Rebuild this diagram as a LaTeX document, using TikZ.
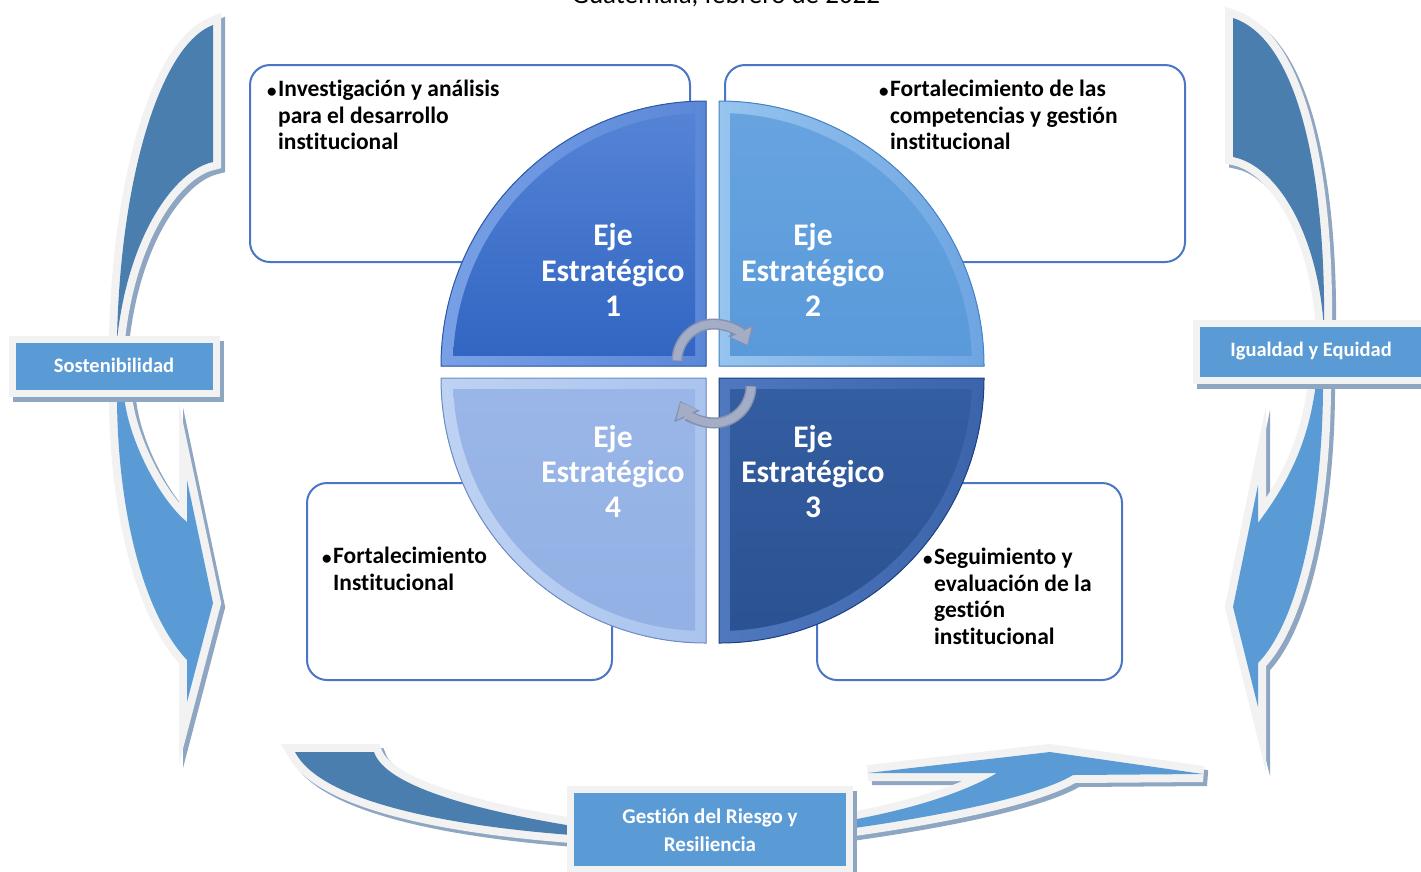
\documentclass[tikz,border=0pt]{standalone}
\usepackage{fontspec}
\setmainfont{Carlito}[Ligatures=NoCommon]
\usetikzlibrary{arrows.meta}
\definecolor{darkarr}{HTML}{4A7EAE}
\definecolor{lightarr}{HTML}{5B9BD5}
\definecolor{rimc}{HTML}{F2F2F2}
\definecolor{shadc}{HTML}{8EA6C2}
\definecolor{boxline}{HTML}{4A76C6}
\definecolor{labblue}{HTML}{5B9BD5}
\definecolor{circc}{HTML}{A3ADC6}
\definecolor{circd}{HTML}{8591AE}
\definecolor{qArimL}{RGB}{120,160,230}
\definecolor{qArimR}{RGB}{90,135,215}
\definecolor{qAtop}{RGB}{88,134,216}
\definecolor{qAbot}{RGB}{50,102,194}
\definecolor{qAedge}{RGB}{44,88,168}
\definecolor{qBrimL}{RGB}{150,196,238}
\definecolor{qBrimR}{RGB}{110,165,225}
\definecolor{qBtop}{RGB}{104,164,224}
\definecolor{qBbot}{RGB}{90,154,218}
\definecolor{qBedge}{RGB}{70,130,200}
\definecolor{qCrimL}{RGB}{80,120,190}
\definecolor{qCrimR}{RGB}{60,100,170}
\definecolor{qCtop}{RGB}{52,94,162}
\definecolor{qCbot}{RGB}{42,80,144}
\definecolor{qCedge}{RGB}{30,64,128}
\definecolor{qDrimL}{RGB}{190,210,242}
\definecolor{qDrimR}{RGB}{170,196,238}
\definecolor{qDtop}{RGB}{154,182,232}
\definecolor{qDbot}{RGB}{146,176,228}
\definecolor{qDedge}{RGB}{110,140,200}
\begin{document}
\begin{tikzpicture}[x=1pt,y=-1pt,
  rimst/.style={fill=rimc, draw=rimc, line width=16pt, line join=miter},
  shadst/.style={fill=shadc, draw=shadc, line width=16pt, line join=miter, shift={(4,4)}},
  boxst/.style={draw=boxline, line width=2pt, fill=white, rounded corners=20pt, inner sep=0pt},
  boxtxt/.style={font=\fontsize{23.5}{26.5}\selectfont\bfseries, anchor=base west, inner sep=0pt},
  bul/.style={font=\fontsize{19}{20}\selectfont\bfseries, anchor=base west, inner sep=0pt},
  eje/.style={font=\fontsize{31.5}{35}\selectfont\bfseries, text=white, anchor=base, inner sep=0pt},
  labst/.style={fill=labblue, draw=rimc, line width=7pt, inner sep=0pt,
     preaction={draw=shadc, fill=shadc, line width=7pt, transform canvas={xshift=4pt,yshift=-5pt}}},
  labtxt/.style={font=\fontsize{20.5}{28}\selectfont\bfseries, text=white, align=center, inner sep=0pt},
  circout/.style={draw=circd, line width=11pt, -{Triangle[width=27pt,length=17pt]}},
  circarr/.style={draw=circc, line width=8pt, -{Triangle[width=22pt,length=14pt]}},
]
\clip (0,0) rectangle (1421,871);
\fill[white] (0,0) rectangle (1421,871);

% top partial caption
\node[font=\fontsize{27}{30}\selectfont, anchor=base, inner sep=0pt] (cap) at (726,3) {Guatemala, febrero de 2022};

% ---------- curved arrows ----------
\def\pLT{(213,25) -- (213,162) .. controls (175,170) and (128,235) .. (117,340) .. controls (120,180) and (160,45) .. (213,25) -- cycle}
\def\pLB{(117,395) .. controls (117,500) and (140,610) .. (187,660) -- (187,702) -- (213,603) -- (187,480) -- (187,522) .. controls (160,500) and (128,440) .. (124,395) -- cycle}
\def\pRT{(1233,18) -- (1233,157) .. controls (1275,165) and (1318,230) .. (1324,330) .. controls (1326,180) and (1300,40) .. (1233,18) -- cycle}
\def\pRB{(1323,375) .. controls (1324,500) and (1300,620) .. (1258,663) -- (1258,707) -- (1233,607) -- (1258,485) -- (1258,523) .. controls (1290,480) and (1310,440) .. (1317,375) -- cycle}
\def\pBL{(295,752) -- (374,752) .. controls (385,785) and (470,810) .. (585,828) -- (585,836) .. controls (440,826) and (320,800) .. (295,752) -- cycle}
\def\pBR{(840,822) .. controls (900,812) and (960,795) .. (997,773) -- (868,773) -- (1050,752) -- (1203,774) -- (1073,775) .. controls (1040,795) and (950,815) .. (840,830) -- cycle}

\fill[shadst] \pLT; \fill[rimst] \pLT; \fill[darkarr] \pLT;
\fill[shadst] \pLB; \fill[rimst] \pLB; \fill[lightarr] \pLB;
\fill[shadst] \pRT; \fill[rimst] \pRT; \fill[darkarr] \pRT;
\fill[shadst] \pRB; \fill[rimst] \pRB; \fill[lightarr] \pRB;
\fill[shadst] \pBL; \fill[rimst] \pBL; \fill[darkarr] \pBL;
\fill[shadst] \pBR; \fill[rimst] \pBR; \fill[lightarr] \pBR;

% ---------- labels ----------
\node[labst, minimum width=204pt, minimum height=54pt] (sost) at (114.5,366.5) {};
\node[labtxt] (sostt) at (114,365.5) {Sostenibilidad};
\node[labst, minimum width=248pt, minimum height=57.5pt] (igual) at (1320,351.75) {};
\node[labtxt] (igualt) at (1311,351) {Igualdad y Equidad};
\node[labst, minimum width=279pt, minimum height=80pt] (gest) at (710,829) {};
\node[labtxt, font=\fontsize{21}{28}\selectfont\bfseries] (gestt) at (710,830) {Gestión del Riesgo y\\Resiliencia};

% ---------- text boxes ----------
\node[boxst, minimum width=440pt, minimum height=197pt] (b1) at (470,163.5) {};
\node[boxst, minimum width=460pt, minimum height=197pt] (b2) at (955,163.5) {};
\node[boxst, minimum width=305pt, minimum height=197pt] (b4) at (459.5,581.5) {};
\node[boxst, minimum width=305pt, minimum height=197pt] (b3) at (969.5,581.5) {};

% ---------- pie quadrants ----------
% Q1
\fill[left color=qArimL, right color=qArimR]
  (706,366) -- (441,366) arc[start angle=180, end angle=270, radius=265] -- cycle;
\begin{scope}
  \clip (706,366) circle[radius=253];
  \shade[top color=qAtop, bottom color=qAbot] (430,90) rectangle (695,355);
\end{scope}
\draw[line width=1pt, draw=qAedge] (706,366) -- (441,366) arc[start angle=180, end angle=270, radius=265] -- cycle;
% Q2
\fill[left color=qBrimL, right color=qBrimR]
  (719,366) -- (719,101) arc[start angle=270, end angle=360, radius=265] -- cycle;
\begin{scope}
  \clip (719,366) circle[radius=253];
  \shade[top color=qBtop, bottom color=qBbot] (730,90) rectangle (1000,355);
\end{scope}
\draw[line width=1pt, draw=qBedge] (719,366) -- (719,101) arc[start angle=270, end angle=360, radius=265] -- cycle;
% Q3
\fill[left color=qCrimL, right color=qCrimR]
  (719,378) -- (984,378) arc[start angle=0, end angle=90, radius=265] -- cycle;
\begin{scope}
  \clip (719,378) circle[radius=253];
  \shade[top color=qCtop, bottom color=qCbot] (730,389) rectangle (1000,660);
\end{scope}
\draw[line width=1pt, draw=qCedge] (719,378) -- (984,378) arc[start angle=0, end angle=90, radius=265] -- cycle;
% Q4
\fill[left color=qDrimL, right color=qDrimR]
  (706,378) -- (706,643) arc[start angle=90, end angle=180, radius=265] -- cycle;
\begin{scope}
  \clip (706,378) circle[radius=253];
  \shade[top color=qDtop, bottom color=qDbot] (430,389) rectangle (695,660);
\end{scope}
\draw[line width=1pt, draw=qDedge] (706,378) -- (706,643) arc[start angle=90, end angle=180, radius=265] -- cycle;

% ---------- pie texts ----------
\node[eje] (q1a) at (613,245) {Eje};
\node[eje] (q1b) at (613,281) {Estratégico};
\node[eje] (q1c) at (613,316) {1};
\node[eje] (q2a) at (813,245) {Eje};
\node[eje] (q2b) at (813,281) {Estratégico};
\node[eje] (q2c) at (813,316) {2};
\node[eje] (q4a) at (613,447) {Eje};
\node[eje] (q4b) at (613,482) {Estratégico};
\node[eje] (q4c) at (613,517) {4};
\node[eje] (q3a) at (813,447) {Eje};
\node[eje] (q3b) at (813,482) {Estratégico};
\node[eje] (q3c) at (813,517) {3};

% ---------- box texts ----------
\node[bul] (t1d) at (267,97) {•};
\node[boxtxt, align=left, anchor=north west] (t1) at (278,80) {Investigación y análisis\\para el desarrollo\\institucional};
\node[bul] (t2d) at (879,97) {•};
\node[boxtxt, align=left, anchor=north west] (t2) at (890,80) {Fortalecimiento de las\\competencias y gestión\\institucional};
\node[bul] (t4d) at (322,564) {•};
\node[boxtxt, align=left, anchor=north west] (t4) at (333,547) {Fortalecimiento\\Institucional};
\node[bul] (t3d) at (923,565) {•};
\node[boxtxt, align=left, anchor=north west] (t3) at (934,548) {Seguimiento y\\evaluación de la\\gestión\\institucional};

% ---------- circular arrows ----------
\coordinate (ctop) at (714,361);
\coordinate (cbot) at (714,386);
\draw[circout] ([shift={(180:37)}]ctop) arc[start angle=180, end angle=336, radius=37];
\draw[circarr] ([shift={(181:37)}]ctop) arc[start angle=181, end angle=334, radius=37];
\draw[circout] ([shift={(0:37)}]cbot) arc[start angle=0, end angle=156, radius=37];
\draw[circarr] ([shift={(1:37)}]cbot) arc[start angle=1, end angle=154, radius=37];
\end{tikzpicture}
\end{document}
